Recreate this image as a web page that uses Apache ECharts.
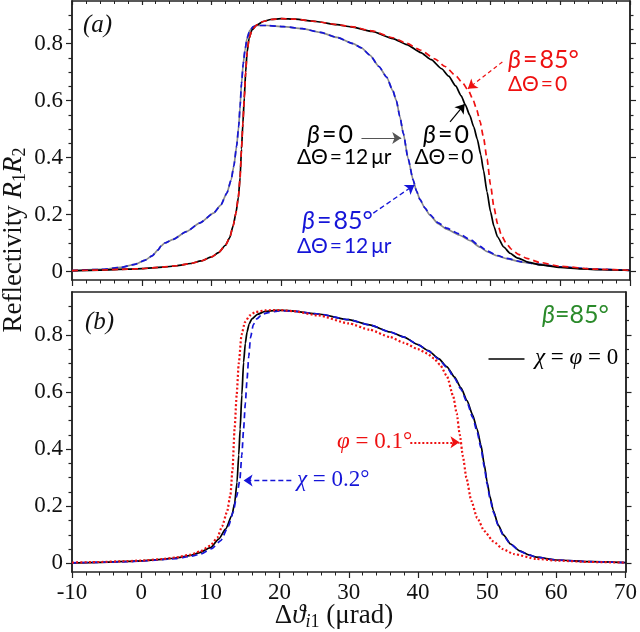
<!DOCTYPE html>
<html><head><meta charset="utf-8">
<script src="https://cdn.jsdelivr.net/npm/echarts@6/dist/echarts.min.js"></script>
<style>html,body{margin:0;padding:0;background:#fff}#c{width:640px;height:632px}</style>
</head><body><div id="c"></div>
<script>
// ---- tick definitions ----
const yMajorValues = [0, 0.2, 0.4, 0.6, 0.8];
const yMajorLabels = ['0', '0.2', '0.4', '0.6', '0.8'];
const yMinorValues = [0.05, 0.1, 0.15, 0.25, 0.3, 0.35, 0.45, 0.5, 0.55, 0.65, 0.7, 0.75, 0.85, 0.9];

// ---- panel (a) curves: [Δϑ (µrad), R1R2] ----
const aBeta0Theta0 = [[-10,0.003],[-6,0.005],[-2,0.008],[0,0.010],[3,0.015],[5,0.020],[7,0.028],[8.5,0.037],[10,0.051],[11,0.066],[12,0.092],[12.6,0.118],[13.1,0.16],[13.5,0.205],[13.85,0.26],[14.1,0.33],[14.3,0.43],[14.5,0.52],[14.7,0.61],[14.9,0.70],[15.1,0.77],[15.4,0.82],[15.8,0.848],[16.5,0.866],[17.4,0.878],[18.5,0.885],[20,0.888],[22,0.886],[25,0.878],[28,0.867],[30,0.859],[33,0.843],[36,0.818],[38,0.797],[40,0.769],[41.5,0.744],[43,0.712],[44,0.686],[45,0.652],[45.8,0.617],[46.4,0.585],[47,0.55],[47.6,0.508],[48.1,0.465],[48.6,0.41],[49,0.355],[49.5,0.28],[50,0.21],[50.5,0.158],[51,0.122],[51.9,0.086],[52.8,0.064],[53.8,0.048],[55.5,0.032],[57.1,0.023],[60,0.014],[63,0.009],[66,0.006],[70,0.004]];
const aBeta85Theta0 = [[-10,0.003],[-6,0.005],[-2,0.008],[0,0.010],[3,0.015],[5,0.020],[7,0.028],[8.5,0.037],[10,0.051],[11,0.066],[12,0.092],[12.6,0.118],[13.1,0.16],[13.5,0.205],[13.85,0.26],[14.1,0.33],[14.3,0.43],[14.5,0.52],[14.7,0.61],[14.9,0.70],[15.1,0.77],[15.4,0.82],[15.8,0.848],[16.5,0.866],[17.4,0.878],[18.5,0.885],[20,0.888],[22,0.886],[25,0.878],[28,0.867],[30,0.86],[33,0.845],[36,0.821],[38,0.801],[40,0.777],[42,0.747],[43.5,0.72],[45,0.688],[46,0.662],[46.85,0.635],[47.5,0.603],[48,0.57],[48.5,0.527],[49,0.47],[49.5,0.395],[50,0.305],[50.5,0.225],[51,0.168],[51.6,0.125],[52.3,0.097],[53,0.078],[54,0.06],[55.2,0.046],[57,0.032],[60,0.018],[65,0.008],[70,0.004]];
const aBeta0Theta12 = [[-10,0.003],[-6,0.007],[-3,0.014],[-1,0.025],[0.5,0.04],[1.5,0.055],[2.3,0.075],[2.8,0.09],[3.3,0.10],[4.5,0.113],[6.4,0.14],[8.3,0.17],[10.3,0.205],[11.3,0.232],[12.2,0.275],[12.8,0.32],[13.2,0.37],[13.6,0.44],[13.9,0.51],[14.1,0.58],[14.3,0.66],[14.55,0.73],[14.8,0.777],[15.1,0.82],[15.5,0.847],[16,0.86],[16.5,0.864],[18,0.864],[20.3,0.86],[23,0.853],[25.6,0.84],[28,0.822],[30.3,0.80],[31.5,0.785],[32.7,0.76],[34,0.72],[35.1,0.683],[36,0.635],[36.5,0.60],[37,0.545],[37.5,0.485],[38.2,0.395],[38.9,0.322],[39.4,0.282],[39.9,0.252],[40.6,0.222],[41.3,0.198],[42.5,0.168],[43.7,0.149],[45.5,0.128],[47.1,0.108],[48.5,0.085],[49.5,0.07],[51,0.055],[52.3,0.045],[54.5,0.033],[57,0.025],[60,0.016],[65,0.008],[70,0.004]];
const aBeta85Theta12 = [[-10,0.003],[-6,0.007],[-3,0.014],[-1,0.025],[0.5,0.04],[1.5,0.055],[2.3,0.075],[2.8,0.09],[3.3,0.10],[4.5,0.113],[6.4,0.14],[8.3,0.17],[10.3,0.205],[11.3,0.232],[12.2,0.275],[12.8,0.32],[13.2,0.37],[13.6,0.44],[13.9,0.51],[14.1,0.58],[14.3,0.66],[14.55,0.73],[14.8,0.777],[15.1,0.82],[15.5,0.847],[16,0.86],[16.5,0.864],[18,0.864],[20.3,0.86],[23,0.853],[25.6,0.84],[28,0.822],[30.3,0.80],[31.5,0.785],[32.7,0.76],[34,0.72],[35.1,0.683],[36,0.635],[36.5,0.60],[37,0.545],[37.5,0.485],[38.2,0.395],[38.9,0.322],[39.4,0.282],[39.9,0.252],[40.6,0.223],[41.3,0.2],[42.5,0.171],[43.7,0.152],[45.5,0.132],[47.1,0.112],[48.5,0.088],[49.5,0.072],[51,0.056],[52.3,0.046],[54.5,0.034],[57,0.025],[60,0.016],[65,0.008],[70,0.004]];

// ---- panel (b) curves (β = 85°) ----
const bChiPhi0 = [[-10,0.002],[-6,0.004],[-2,0.007],[0,0.009],[3,0.014],[5,0.019],[7,0.027],[8.35,0.037],[10,0.055],[11.2,0.085],[12.2,0.12],[13.1,0.167],[13.5,0.21],[13.85,0.284],[14.1,0.38],[14.3,0.47],[14.55,0.59],[14.8,0.704],[15.05,0.77],[15.3,0.81],[15.6,0.838],[16,0.856],[16.8,0.872],[17.9,0.882],[19.5,0.886],[21.3,0.885],[25.6,0.873],[30,0.853],[33,0.835],[36,0.81],[38,0.792],[40,0.766],[41.5,0.745],[43,0.717],[44.2,0.688],[45.3,0.652],[46.2,0.615],[47.1,0.57],[47.9,0.52],[48.55,0.47],[49.1,0.415],[49.6,0.345],[50,0.285],[50.4,0.235],[50.9,0.185],[51.6,0.135],[52.35,0.1],[53.4,0.068],[54.7,0.044],[56,0.03],[57.1,0.022],[60,0.012],[65,0.006],[70,0.003]];
const bChi02 = [[-10,0.002],[-6,0.004],[-2,0.006],[0,0.008],[3,0.013],[5,0.017],[7,0.024],[8.5,0.032],[10.2,0.052],[11.5,0.08],[12.6,0.13],[13.3,0.18],[13.8,0.235],[14.25,0.29],[14.55,0.38],[14.8,0.47],[15.05,0.56],[15.3,0.645],[15.55,0.725],[15.8,0.79],[16.2,0.835],[16.7,0.856],[17.5,0.872],[18.4,0.878],[20,0.884],[22,0.883],[25.6,0.873],[30,0.853],[33,0.835],[36,0.81],[38,0.792],[40,0.766],[41.5,0.744],[43,0.715],[44.2,0.685],[45.3,0.648],[46.2,0.61],[47.1,0.564],[47.9,0.512],[48.55,0.461],[49.1,0.405],[49.6,0.336],[50,0.277],[50.4,0.229],[50.9,0.18],[51.6,0.132],[52.35,0.098],[53.4,0.067],[54.7,0.043],[56,0.03],[57.1,0.022],[60,0.012],[65,0.006],[70,0.003]];
const bPhi01 = [[-10,0.003],[-6,0.005],[-2,0.008],[0,0.010],[3,0.015],[5,0.021],[7,0.03],[8.5,0.042],[10,0.062],[11,0.09],[11.7,0.13],[12.4,0.18],[12.9,0.24],[13.2,0.33],[13.5,0.47],[13.8,0.59],[14.1,0.70],[14.5,0.80],[15,0.845],[15.7,0.868],[16.5,0.88],[18,0.886],[20,0.887],[22,0.883],[25.6,0.868],[30,0.84],[33,0.818],[36,0.792],[38,0.772],[40,0.75],[41.33,0.735],[42.3,0.718],[43.2,0.695],[44.2,0.655],[45.1,0.585],[45.6,0.525],[46.05,0.45],[46.5,0.375],[47,0.3],[47.7,0.22],[48.55,0.16],[49.6,0.113],[50.9,0.077],[52.3,0.05],[53.8,0.033],[57.1,0.016],[60,0.01],[65,0.005],[70,0.003]];

// ---- annotation arrows (data coordinates: [from, to]) ----
const arrowRedA = [[51.7,0.736],[46.75,0.642]];
const arrowBlackA = [[44.2,0.525],[46.3,0.588]];
const arrowGrayA = [[31.5,0.469],[37.2,0.469]];
const arrowBlueA = [[33.2,0.205],[39.1,0.304]];
const arrowRedB = [[38.9,0.424],[46.0,0.424]];
const arrowBlueB = [[21.7,0.29],[14.8,0.29]];
const legendLineB = [[50.2,0.718],[55.4,0.718]];

const RED = '#ee1111', BLUE = '#1515d8', GRAY = '#8a8a8a', GREEN = '#2a8a2a', INK = '#222';
const SERIF = '"Liberation Serif", "DejaVu Serif", serif';
const SANS = 'Lato, "Open Sans", "Noto Sans", sans-serif';

const chart = echarts.init(document.getElementById('c'), null, {renderer: 'canvas'});

function xAx(grid, pos, opts) {
  return Object.assign({
    type: 'value', gridIndex: grid, position: pos, min: -10, max: 70, interval: 10,
    axisLine: {show: true, onZero: false, lineStyle: {color: INK, width: 1.5}},
    axisTick: {show: true, inside: false, length: 6, lineStyle: {color: INK, width: 1.2}},
    minorTick: {show: true, splitNumber: 5, length: 3.5, lineStyle: {color: INK, width: 1}},
    axisLabel: {show: false},
    splitLine: {show: false}
  }, opts);
}
function yAx(grid, pos, values, len, labels) {
  return {
    type: 'value', gridIndex: grid, position: pos, min: -0.03, max: 0.95,
    axisLine: {show: true, onZero: false, lineStyle: {color: INK, width: 1.5}},
    axisTick: {show: true, inside: false, length: len, customValues: values, lineStyle: {color: INK, width: 1.2}},
    axisLabel: labels ? {show: true, customValues: values, margin: 9, color: '#111', fontFamily: SERIF, fontSize: 23,
      formatter: v => yMajorLabels[yMajorValues.findIndex(t => Math.abs(t - v) < 1e-9)] ?? ''} : {show: false},
    splitLine: {show: false}
  };
}

function arrow(pts, color, type, width, head) {
  const st = {color: color, type: type, width: width};
  return [
    {coord: pts[0], symbol: 'none', lineStyle: st},
    {coord: pts[1], symbol: head ? 'arrow' : 'none', symbolSize: head ? 9 : 0, lineStyle: st}
  ];
}
function line(data, xi, yi, color, type, width, z, marks) {
  const s = {
    type: 'line', xAxisIndex: xi, yAxisIndex: yi, data: data, symbol: 'none', showSymbol: false,
    smooth: 0.2, smoothMonotone: 'x', z: z, silent: true,
    lineStyle: {color: color, width: width, type: type, cap: 'butt'}
  };
  if (marks) {
    s.markLine = {silent: true, symbol: ['none', 'arrow'], symbolSize: 9, label: {show: false},
      animation: false, data: marks};
  }
  return s;
}

function rt(x, y, text, rich, color, align) {
  return {
    type: 'text', x: x, y: y, silent: true,
    style: {text: text, rich: rich, fill: color, align: align || 'left', textAlign: align || 'left',
      verticalAlign: 'middle', textVerticalAlign: 'middle', font: '22px ' + SANS}
  };
}
const richSans = (sz, c) => ({
  b: {fontFamily: SANS, fontStyle: 'italic', fontSize: sz, fill: c, color: c},
  n: {fontFamily: SANS, fontSize: sz, fill: c, color: c},
  e: {fontFamily: SANS, fontSize: sz, fill: c, color: c, padding: [0, 2, 0, 2]},
  g: {fontFamily: SANS, fontSize: sz, fill: c, color: c, padding: [0, 0, 0, 3]}
});
const richSerif = (sz, c) => ({
  b: {fontFamily: SERIF, fontStyle: 'italic', fontSize: sz, fill: c, color: c},
  n: {fontFamily: SERIF, fontSize: sz, fill: c, color: c}
});

const option = {
  animation: false,
  backgroundColor: '#fff',
  grid: [
    {left: 72, right: 10, top: 1, height: 279},
    {left: 72, right: 10, top: 292, height: 280}
  ],
  xAxis: [
    xAx(0, 'bottom', {}),
    xAx(0, 'top', {axisTick: {show: true, inside: true, length: 4, lineStyle: {color: INK, width: 1.2}},
      minorTick: {show: true, inside: true, splitNumber: 5, length: 3, lineStyle: {color: INK, width: 1}}}),
    xAx(1, 'bottom', {axisLabel: {show: true, margin: 9, color: '#111', fontFamily: SERIF, fontSize: 23}}),
    xAx(1, 'top', {axisTick: {show: false}, minorTick: {show: false}})
  ],
  yAxis: [
    yAx(0, 'left', yMajorValues, 6, true),
    yAx(0, 'left', yMinorValues, 3.5, false),
    yAx(0, 'right', yMajorValues, 6, false),
    yAx(0, 'right', yMinorValues, 3.5, false),
    yAx(1, 'left', yMajorValues, 6, true),
    yAx(1, 'left', yMinorValues, 3.5, false),
    yAx(1, 'right', yMajorValues, 6, false),
    yAx(1, 'right', yMinorValues, 3.5, false)
  ],
  series: [
    line(aBeta0Theta12, 0, 0, GRAY, 'solid', 1.7, 2, [
      arrow(arrowGrayA, '#555', 'solid', 1.2, true)
    ]),
    line(aBeta85Theta12, 0, 0, BLUE, [6, 4], 1.7, 3, [
      arrow(arrowBlueA, BLUE, [5, 3], 1.4, true)
    ]),
    line(aBeta0Theta0, 0, 0, '#000', 'solid', 1.7, 4, [
      arrow(arrowBlackA, '#000', 'solid', 1.2, true)
    ]),
    line(aBeta85Theta0, 0, 0, RED, [6, 4], 1.7, 5, [
      arrow(arrowRedA, RED, [4, 3], 1.2, true)
    ]),
    line(bChiPhi0, 2, 4, '#000', 'solid', 1.7, 4, [
      arrow(legendLineB, '#000', 'solid', 1.6, false)
    ]),
    line(bChi02, 2, 4, BLUE, [6, 4], 1.7, 5, [
      arrow(arrowBlueB, BLUE, [5, 3], 1.4, true)
    ]),
    line(bPhi01, 2, 4, RED, [2, 2.2], 2.2, 6, [
      arrow(arrowRedB, RED, [2, 2], 2, true)
    ])
  ],
  graphic: [
    // panel labels
    rt(83, 25, '{b|(a)}', richSerif(25, '#111'), '#111'),
    rt(85, 322, '{b|(b)}', richSerif(25, '#111'), '#111'),
    // panel (a) annotations
    rt(508, 60, '{b|β}{e|=}{n|85°}', richSans(25, RED), RED),
    rt(508, 84, '{n|ΔΘ}{e|=}{n|0}', richSans(21, RED), RED),
    rt(446, 135, '{b|β}{e|=}{n|0}', richSans(25, '#000'), '#000', 'center'),
    rt(444, 157, '{n|ΔΘ}{e|=}{n|0}', richSans(21, '#000'), '#000', 'center'),
    rt(307, 135, '{b|β}{e|=}{n|0}', richSans(25, '#000'), '#000'),
    rt(297, 157, '{n|ΔΘ}{e|=}{n|12}{g|μr}', richSans(21, '#000'), '#000'),
    rt(302, 221, '{b|β}{e|=}{n|85°}', richSans(25, BLUE), BLUE),
    rt(297, 246, '{n|ΔΘ}{e|=}{n|12}{g|μr}', richSans(21, BLUE), BLUE),
    // panel (b) annotations
    rt(542, 315, '{b|β}{n|=85°}', richSans(25, GREEN), GREEN),
    rt(535, 358, '{b|χ}{n| = }{b|φ}{n| = 0}', richSerif(23, '#000'), '#000'),
    rt(337, 442, '{b|φ}{n| = 0.1°}', richSerif(23, RED), RED),
    rt(297, 480, '{b|χ}{n| = 0.2°}', richSerif(23, BLUE), BLUE),
    // axis titles
    {
      type: 'text', x: 14, y: 240, rotation: Math.PI / 2, silent: true,
      style: {
        text: '{n|Reflectivity }{i|R}{s|1}{i|R}{s|2}',
        align: 'center', textAlign: 'center', verticalAlign: 'middle', textVerticalAlign: 'middle',
        fill: '#111', font: '27px ' + SERIF,
        rich: {
          n: {fontFamily: SERIF, fontSize: 27, fill: '#111', lineHeight: 30},
          i: {fontFamily: SERIF, fontSize: 27, fontStyle: 'italic', fill: '#111', lineHeight: 30},
          s: {fontFamily: SERIF, fontSize: 18, fill: '#111', lineHeight: 14, verticalAlign: 'bottom'}
        }
      }
    },
    {
      type: 'text', x: 334, y: 616, silent: true,
      style: {
        text: '{n|Δ}{i|ϑ}{si|i}{s|1}{n| (μrad)}',
        align: 'center', textAlign: 'center', verticalAlign: 'middle', textVerticalAlign: 'middle',
        fill: '#111', font: '27px ' + SERIF,
        rich: {
          n: {fontFamily: SERIF, fontSize: 27, fill: '#111', lineHeight: 30},
          i: {fontFamily: SERIF, fontSize: 27, fontStyle: 'italic', fill: '#111', lineHeight: 30},
          si: {fontFamily: SERIF, fontSize: 18, fontStyle: 'italic', fill: '#111', lineHeight: 14, verticalAlign: 'bottom'},
          s: {fontFamily: SERIF, fontSize: 18, fill: '#111', lineHeight: 14, verticalAlign: 'bottom'}
        }
      }
    }
  ]
};
chart.setOption(option);
</script>
</body></html>
